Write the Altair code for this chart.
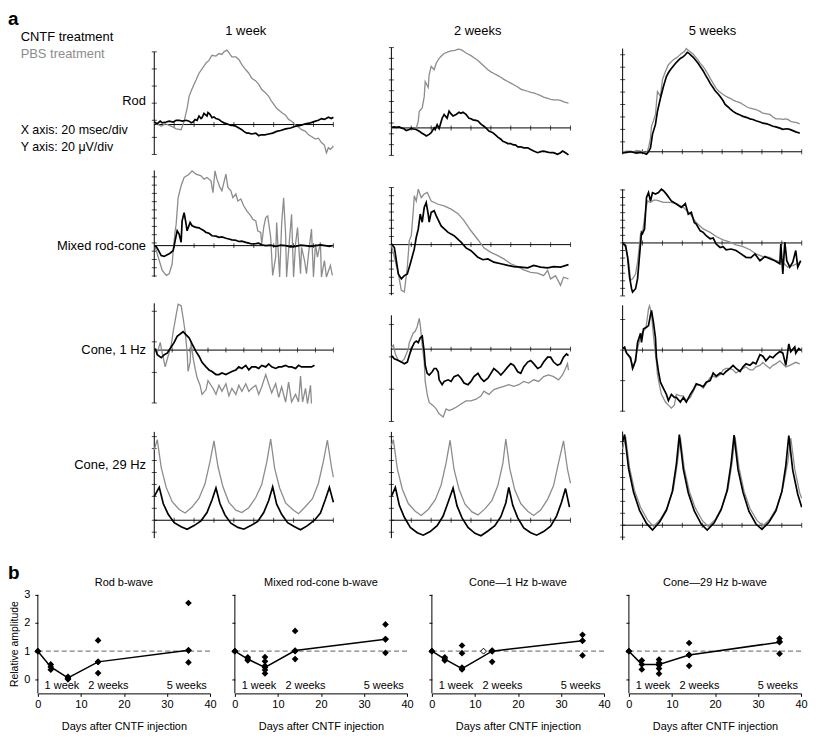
import altair as alt
import pandas as pd

FONT = "Liberation Sans"
GRAY = "#8c8c8c"

# ---------------- Panel a : ERG traces (t in ms, amplitude in µV) ----------------
ROD_1W_PBS = [(0,2),(4,0),(7,-2),(11,1),(15,-1),(19,-3),(22,-5),(27,-6),(30,4),(33,19),(35,33),(37,39),(40,47),(42,52),(45,60),(48,65),(52,72),(55,75),(58,81),(62,80),(65,83),(68,82),(70,85),(73,87),(75,84),(78,79),(82,79),(85,76),(88,70),(92,64),(95,60),(98,54),(102,51),(105,47),(108,41),(112,37),(115,33),(118,27),(123,19),(128,14),(132,11),(135,6),(138,4),(142,-1),(145,-3),(148,-6),(152,-8),(155,-12),(158,-14),(162,-17),(165,-16),(168,-21),(171,-24),(173,-33),(175,-27),(177,-29),(180,-25)]
ROD_1W_CNTF = [(0,3),(3,1),(6,4),(8,2),(12,3),(15,4),(19,3),(22,5),(25,5),(28,4),(32,5),(35,4),(37,2),(39,3),(41,6),(43,5),(45,10),(47,7),(48,8),(50,13),(51,12),(53,10),(54,14),(56,12),(58,8),(60,9),(62,7),(65,6),(67,4),(70,2),(73,1),(77,-1),(80,-1),(82,-2),(85,-4),(88,-6),(90,-8),(93,-10),(95,-10),(98,-11),(102,-10),(105,-13),(107,-12),(111,-12),(115,-11),(119,-10),(123,-8),(127,-7),(132,-5),(137,-4),(142,-2),(147,-1),(152,1),(157,2),(162,4),(165,5),(168,7),(171,6),(175,8.5),(178,7),(180,8.5)]
ROD_2W_PBS = [(0,0),(4,1),(7,2),(10,0),(13,-1),(17,-1),(20,-2),(23,-1),(25,0),(27,12),(28,31),(31,37),(33,58),(34,86),(37,75),(38,99),(40,114),(43,108),(45,120),(48,129),(50,133),(53,138),(57,141),(60,143),(64,144),(67,146),(70,145),(72,143),(75,139),(77,137),(80,134),(83,130),(87,125),(90,120),(93,115),(97,108),(100,104),(103,101),(107,97),(110,94),(113,90),(117,86),(120,83),(123,80),(127,76),(130,72),(133,70),(137,68),(140,66),(143,65),(147,62),(150,60),(153,57),(157,55),(160,53),(163,52),(167,52),(170,51),(174,48),(178,46)]
ROD_2W_CNTF = [(0,1),(3,2),(5,1),(8,2),(10,0),(13,-2),(15,-5),(18,-3),(20,-1),(22,-2),(25,-3),(28,-6),(30,-9),(33,-12),(35,-15),(38,-12),(40,-9),(43,0),(44,-3),(46,6),(48,-1),(51,18),(53,25),(56,18),(58,31),(60,26),(62,22),(65,25),(68,29),(70,27),(72,29),(75,25),(78,18),(80,17),(82,15),(85,14),(87,13),(90,7),(93,3),(95,0),(98,-6),(102,-9),(104,-12),(107,-17),(110,-21),(112,-25),(115,-27),(117,-29),(120,-29),(122,-31),(125,-32),(127,-35),(130,-35),(133,-37),(137,-37),(140,-40),(143,-43),(147,-46),(150,-44),(153,-43),(157,-45),(160,-46),(163,-46),(167,-49),(170,-46),(172,-43),(175,-46),(178,-50)]
ROD_5W_PBS = [(0,0),(4,1),(8,1),(11,0),(14,2),(18,1),(21,0),(24,-2),(26,6),(28,22),(29,41),(31,50),(33,60),(35,97),(38,89),(40,116),(43,129),(46,140),(49,145),(51,148),(54,151),(57,155),(59,158),(62,161),(64,166),(66,163),(68,161),(71,157),(73,153),(76,147),(78,142),(81,137),(83,132),(86,124),(88,118),(91,110),(94,102),(97,97),(101,92),(104,89),(108,86),(111,83),(114,81),(118,79),(121,76),(125,72),(128,70),(131,69),(134,68),(138,65),(141,62),(145,61),(148,60),(151,56),(154,53),(158,53),(161,52),(164,53),(166,52),(169,49),(171,48),(175,47),(178,45)]
ROD_5W_CNTF = [(0,-2),(4,-1),(8,0),(11,-1),(14,-2),(18,-1),(21,-2),(24,-4),(26,0),(28,6),(30,28),(33,44),(35,65),(38,86),(41,105),(44,121),(46,127),(48,132),(51,138),(53,142),(56,147),(58,150),(61,153),(63,156),(65,160),(67,158),(68,156),(71,152),(73,148),(76,142),(78,137),(81,130),(83,124),(86,116),(88,110),(91,103),(93,98),(96,93),(98,89),(101,82),(103,76),(106,72),(108,69),(111,65),(114,62),(118,59),(121,57),(125,55),(128,53),(131,52),(134,50),(138,48),(141,46),(145,45),(148,43),(151,41),(154,40),(158,38),(161,36),(165,37),(168,36),(171,34),(174,32),(176,31),(178,30)]

MIX_1W_PBS = [(1,-4),(5,-36),(8,-60),(12,-72),(15,-68),(18,-44),(19,-12),(21,36),(22,52),(24,116),(27,145),(30,165),(35,173),(38,181),(42,173),(47,169),(50,161),(53,165),(57,157),(59,128),(61,181),(63,161),(66,141),(68,133),(72,173),(74,141),(77,133),(79,116),(82,125),(84,108),(87,113),(90,96),(93,84),(97,72),(99,64),(102,60),(104,36),(107,32),(108,4),(110,44),(112,68),(114,72),(117,20),(119,-72),(122,-28),(123,56),(126,-76),(128,52),(130,116),(132,28),(133,-76),(135,-12),(138,76),(140,-76),(142,4),(144,44),(147,-68),(148,-4),(151,-36),(153,-68),(155,-20),(158,40),(160,-76),(162,4),(164,-28),(167,8),(168,-76),(171,-36),(173,-76),(177,-48),(179,-72)]
MIX_1W_CNTF = [(1,0),(3,-6),(5,-15),(7,-24),(10,-26),(13,-22),(15,-20),(17,-16),(19,-12),(21,12),(23,36),(25,28),(27,8),(28,60),(30,80),(32,52),(33,36),(36,56),(38,48),(40,46),(42,44),(45,43),(47,40),(50,36),(52,32),(55,30),(58,24),(62,23),(65,20),(68,21),(72,18),(75,16),(78,14),(82,13),(85,10),(88,11),(92,8),(95,6),(98,4),(102,5),(105,6),(108,2),(112,0),(117,1),(122,-2),(127,1),(132,0),(137,-3),(142,-2),(147,1),(152,0),(157,-2),(162,0),(167,2),(172,0),(176,-2),(179,0)]
MIX_2W_PBS = [(0,0),(3,-31),(7,-72),(10,-112),(13,-116),(16,-55),(18,10),(20,22),(22,83),(23,120),(25,107),(27,136),(30,115),(33,124),(36,128),(40,107),(47,99),(53,95),(60,87),(67,76),(73,59),(80,34),(87,12),(93,-8),(100,-19),(107,-27),(113,-35),(120,-47),(127,-54),(133,-62),(140,-68),(147,-70),(153,-76),(157,-63),(160,-84),(165,-76),(170,-100),(173,-80),(178,-84)]
MIX_2W_CNTF = [(0,2),(3,-7),(5,-39),(7,-72),(10,-84),(13,-76),(16,-72),(19,-47),(23,-11),(25,18),(27,38),(29,75),(31,55),(33,91),(35,103),(37,75),(38,55),(40,79),(43,83),(45,71),(50,46),(57,30),(63,22),(70,6),(75,-8),(80,-15),(87,-31),(92,-37),(97,-35),(103,-43),(110,-47),(117,-51),(123,-54),(130,-55),(137,-57),(143,-51),(150,-55),(157,-57),(163,-54),(170,-55),(178,-49)]
MIX_5W_PBS = [(0,-1),(3,-12),(6,-47),(8,-99),(10,-95),(13,-82),(15,-51),(17,-3),(18,24),(20,28),(23,85),(25,111),(28,107),(31,113),(34,113),(41,107),(48,107),(54,104),(61,94),(68,76),(74,54),(81,37),(88,28),(94,17),(101,8),(108,2),(114,-5),(121,-10),(128,-18),(134,-29),(141,-36),(148,-38),(154,-47),(161,-51),(166,-64),(171,-60),(178,-51)]
MIX_5W_CNTF = [(0,-1),(3,-7),(5,-38),(7,-91),(9,-121),(10,-130),(13,-121),(15,-95),(17,-33),(19,28),(20,25),(22,37),(24,120),(26,133),(28,111),(30,133),(33,129),(36,133),(39,142),(41,138),(44,129),(49,111),(54,103),(59,94),(63,104),(66,76),(69,81),(72,54),(74,50),(78,32),(81,28),(84,19),(88,11),(91,13),(94,-3),(98,-12),(101,-10),(104,-18),(109,-16),(114,-20),(119,-29),(124,-38),(129,-39),(133,-29),(138,-47),(143,-36),(148,-42),(153,-47),(158,-55),(159,-3),(161,-82),(163,2),(165,-47),(168,-64),(171,-51),(174,-20),(176,-64),(179,-47)]

C1_1W_PBS = [(1,1),(3,-2),(6,5),(8,-2),(11,-11),(13,-6),(17,3),(19,12),(22,23),(24,30),(27,29),(29,21),(31,12),(33,-1),(34,-14),(36,-8),(37,5),(39,-5),(41,-12),(43,-18),(46,-23),(48,-29),(52,-26),(54,-20),(57,-23),(59,-25),(62,-29),(65,-23),(68,-27),(72,-22),(75,-30),(78,-25),(82,-29),(85,-23),(88,-27),(92,-22),(95,-27),(98,-25),(102,-23),(105,-29),(108,-24),(112,-16),(115,-22),(118,-28),(122,-22),(125,-31),(128,-24),(132,-34),(135,-21),(138,-34),(142,-29),(145,-34),(147,-17),(149,-34),(152,-25),(154,-35),(157,-23),(158,-35)]
C1_1W_CNTF = [(1,1),(3,-3),(7,-5),(10,-3),(13,-2),(17,2),(20,5),(23,9),(27,11),(29,12),(32,10),(35,8),(38,4),(42,-1),(45,-4),(48,-8),(52,-11),(55,-13),(58,-14),(62,-16),(65,-16),(68,-15),(72,-16),(75,-15),(78,-14),(82,-13),(85,-11),(88,-12),(92,-10),(95,-13),(98,-11),(102,-11),(105,-12),(108,-10),(112,-11),(115,-9),(118,-11),(122,-12),(125,-11),(128,-11),(132,-10),(135,-11),(138,-11),(142,-12),(145,-10),(148,-11),(152,-11),(155,-11),(158,-11),(161,-10)]
C1_2W_PBS = [(0,1),(2,2.5),(4,-3),(7,-7),(10,-8),(13,-6),(17,0),(18,4),(22,10),(24,11),(26,14),(28,19),(29,15),(31,2.5),(33,-8),(34,-20),(36,-28),(38,-33),(42,-35),(45,-37),(48,-40),(52,-42),(55,-37),(58,-38),(62,-37),(65,-36),(70,-34),(75,-32),(80,-32),(85,-31),(90,-29),(93,-26),(98,-28),(103,-25),(108,-24),(113,-23),(118,-22),(123,-23),(128,-22),(133,-20),(138,-21),(143,-19),(148,-20),(153,-17),(158,-16),(163,-17),(168,-19),(172,-16),(175,-12),(177,-9),(178,-13)]
C1_2W_CNTF = [(0,-4),(3,-6),(7,-7),(10,-8),(13,-9),(16,-8),(18,-4),(20,0),(23,4),(25,5),(27,4),(29,7),(31,8),(33,-2),(34,-10),(36,-15),(38,-16),(41,-14),(43,-12),(45,-12),(47,-14),(48,-19),(51,-22),(53,-20),(57,-19),(60,-20),(63,-17),(67,-16),(70,-18),(73,-21),(77,-22),(80,-20),(83,-17),(87,-15),(90,-18),(93,-20),(97,-18),(100,-15),(103,-12),(107,-14),(110,-16),(113,-14),(117,-11),(120,-9),(123,-10),(127,-14),(130,-15),(133,-11),(137,-8),(140,-7),(143,-9),(147,-12),(150,-11),(153,-8),(157,-5),(160,-5),(163,-8),(167,-10),(170,-9),(173,-5),(176,-3),(178,-4)]
C1_5W_PBS = [(0,1),(3,-1),(6,-4),(9,-8),(11,-11),(13,-5),(15,1),(18,9),(20,12),(23,14),(24,17),(26,27),(27,29),(29,24),(30,16),(32,3),(34,-8),(35,-16),(37,-23),(39,-29),(43,-34),(46,-36),(49,-38),(52,-36),(54,-29),(58,-30),(61,-30),(64,-33),(68,-31),(71,-27),(74,-23),(78,-23),(81,-25),(84,-22),(88,-18),(91,-17),(94,-18),(98,-16),(101,-13),(104,-12),(108,-12),(111,-13),(114,-15),(118,-13),(121,-12),(124,-11),(128,-13),(131,-13),(134,-11),(138,-10),(141,-8),(144,-10),(148,-12),(151,-10),(154,-9),(158,-7),(161,-9),(164,-11),(168,-10),(171,-9),(174,-8),(178,-9)]
C1_5W_CNTF = [(0,1),(2,2),(4,-2),(8,-5),(10,-12),(13,-7),(15,5),(18,11),(19,5),(21,14),(24,15),(26,16),(28,23),(29,26),(31,18),(33,8),(34,-5),(36,-14),(38,-21),(41,-25),(44,-29),(46,-33),(49,-29),(52,-31),(54,-31),(58,-34),(61,-31),(64,-34),(68,-29),(71,-26),(74,-22),(78,-23),(81,-24),(84,-21),(88,-20),(91,-15),(94,-17),(98,-15),(101,-16),(104,-14),(108,-12),(111,-10),(114,-12),(118,-14),(121,-11),(124,-9),(128,-10),(131,-8),(134,-9),(138,-3),(141,-4),(144,-7),(148,-4),(151,-5),(154,-3),(158,-1),(161,-2),(164,-10),(167,4),(169,-1),(173,2),(174,-2),(177,1),(179,0)]

C29_1W_PBS = [(0,118),(3,135),(7,88),(12,55),(18,31),(25,18),(31,12),(38,22),(45,37),(51,61),(56,98),(60,133),(64,90),(69,56),(75,30),(82,17),(88,13),(95,21),(102,38),(108,60),(113,97),(117,136),(121,87),(126,54),(132,29),(139,18),(145,11),(152,23),(159,36),(165,62),(170,99),(174,134),(178,90),(180,72)]
C29_1W_CNTF = [(0,40),(5,55),(9,28),(14,10),(20,-4),(27,-11),(33,-15),(40,-9),(47,-1),(53,13),(58,34),(62,54),(66,28),(71,9),(77,-5),(84,-12),(90,-15),(97,-9),(104,-2),(110,13),(115,33),(119,56),(123,27),(128,10),(134,-4),(141,-11),(147,-16),(154,-9),(161,0),(167,12),(172,35),(176,55),(180,30)]
C29_2W_PBS = [(0,125),(2,135),(6,86),(11,52),(17,28),(24,15),(30,8),(37,18),(44,34),(50,59),(55,96),(59,134),(63,85),(68,52),(74,27),(81,14),(87,9),(94,19),(101,33),(107,58),(112,95),(115,136),(119,86),(124,51),(130,28),(137,15),(143,8),(150,17),(157,35),(163,58),(168,96),(173,133),(177,85),(180,62)]
C29_2W_CNTF = [(0,40),(4,55),(8,25),(13,5),(19,-12),(26,-21),(32,-25),(39,-19),(46,-9),(52,7),(57,30),(62,54),(66,24),(71,4),(77,-12),(84,-22),(90,-26),(97,-18),(104,-9),(110,6),(115,29),(118,55),(122,25),(127,4),(133,-13),(140,-21),(146,-25),(153,-19),(160,-10),(166,7),(171,30),(175,53),(179,22)]
C29_5W_PBS = [(0,128),(3,148),(7,96),(12,58),(18,30),(25,9),(31,-2),(38,10),(45,30),(51,60),(55,104),(58,147),(62,95),(67,57),(73,29),(80,8),(86,-2),(93,9),(100,31),(106,61),(110,105),(113,148),(117,96),(122,57),(128,28),(135,8),(141,-1),(148,10),(155,30),(161,62),(166,106),(169,146),(173,94),(178,54),(180,45)]
C29_5W_CNTF = [(0,140),(2,152),(6,95),(11,55),(17,25),(24,3),(30,-8),(37,5),(44,25),(50,57),(54,102),(57,152),(61,94),(66,54),(72,24),(79,2),(85,-8),(92,4),(99,26),(105,58),(109,103),(112,151),(116,93),(121,55),(127,23),(134,2),(140,-7),(147,5),(154,24),(160,56),(164,100),(167,150),(171,92),(176,52),(180,30)]

# axis tick values (µV) and axis extents per panel
TICKS_20 = [20, 40, 60, 80, 100, 120, 140, 160, 180]
TICKS_18 = [18, 36, 54, 72, 90, 108, 126, 144, 162, 180]
Y_TICKS = {
    (1, 1): [-35, -15, 5, 25, 45, 65, 85],
    (1, 2): [-51, -31, -11, 9, 29, 49, 69, 89, 109, 129, 149],
    (1, 3): [16, 36, 56, 76, 96, 116, 136, 156],
    (2, 1): [-73.5, -53.5, -33.5, -13.5, 6.5, 26.5, 46.5, 66.5, 86.5, 106.5, 126.5, 146.5, 166.5],
    (2, 2): [-120, -100, -80, -60, -40, -20, 0, 20, 40, 60, 80, 100, 120, 140],
    (2, 3): [-140, -120, -100, -80, -60, -40, -20, 0, 20, 40, 60, 80, 100, 120, 140],
    (3, 1): [-34.6, -14.6, 5.4, 25.4],
    (3, 2): [-44.8, -24.8, -4.8, 15.2],
    (3, 3): [-40, -20, 0, 20],
    (4, 1): [-20, 0, 20, 40, 60, 80, 100, 120, 140],
    (4, 2): [-20, 0, 20, 40, 60, 80, 100, 120, 140],
    (4, 3): [-20, 0, 20, 40, 60, 80, 100, 120, 140],
}
Y_EXT = {
    (1, 1): (-35, 85), (1, 2): (-51, 149), (1, 3): (-4, 166),
    (2, 1): (-76, 182), (2, 2): (-124, 140), (2, 3): (-140, 142),
    (3, 1): (-34.7, 30.6), (3, 2): (-44.7, 20.9), (3, 3): (-40.2, 29.3),
    (4, 1): (-30, 148), (4, 2): (-30, 148), (4, 3): (-25, 157),
}

# layout (pixels / scale domains)
COL_W = [330, 230, 208]
COL_XDOM = [[-117, 213], [-25.3, 204.7], [-27.7, 180.3]]
ROW_H = [121, 138, 127, 134]
Y_DOM = {
    (1, 1): [-43.8, 96.9], (1, 2): [-63.3, 160], (1, 3): [-16.5, 177.1],
    (2, 1): [-130.1, 202.4], (2, 2): [-134.2, 202.5], (2, 3): [-149.1, 213.8],
    (3, 1): [-49.5, 33.2], (3, 2): [-47.4, 30.8], (3, 3): [-49.5, 33.2],
    (4, 1): [-65, 158.3], (4, 2): [-65, 158.3], (4, 3): [-56.7, 166.7],
}

TRACES = {
    (1, 1): (ROD_1W_PBS, ROD_1W_CNTF), (1, 2): (ROD_2W_PBS, ROD_2W_CNTF), (1, 3): (ROD_5W_PBS, ROD_5W_CNTF),
    (2, 1): (MIX_1W_PBS, MIX_1W_CNTF), (2, 2): (MIX_2W_PBS, MIX_2W_CNTF), (2, 3): (MIX_5W_PBS, MIX_5W_CNTF),
    (3, 1): (C1_1W_PBS, C1_1W_CNTF), (3, 2): (C1_2W_PBS, C1_2W_CNTF), (3, 3): (C1_5W_PBS, C1_5W_CNTF),
    (4, 1): (C29_1W_PBS, C29_1W_CNTF), (4, 2): (C29_2W_PBS, C29_2W_CNTF), (4, 3): (C29_5W_PBS, C29_5W_CNTF),
}

# annotation placements (pixels relative to each panel's plot area)
TEXTS = {
    (1, 1): [("a", -30, -17, "left", "black", 19, "bold", "alphabetic"),
             ("CNTF treatment", -17.3, -5, "left", "black", 13, "normal", "middle"),
             ("PBS treatment", -17.3, 12, "left", GRAY, 13, "normal", "middle"),
             ("1 week", 209, -11, "center", "black", 13, "normal", "middle"),
             ("Rod", 108.7, 60, "right", "black", 13, "normal", "middle"),
             ("X axis: 20 msec/div", -17.3, 89, "left", "black", 12.5, "normal", "middle"),
             ("Y axis: 20 \u03bcV/div", -17.3, 106, "left", "black", 12.5, "normal", "middle")],
    (1, 2): [("2 weeks", 112, -11, "center", "black", 13, "normal", "middle")],
    (1, 3): [("5 weeks", 118, -11, "center", "black", 13, "normal", "middle")],
    (2, 1): [("Mixed rod-cone", 108.7, 84, "right", "black", 13, "normal", "middle")],
    (3, 1): [("Cone, 1 Hz", 108.7, 51, "right", "black", 13, "normal", "middle")],
    (4, 1): [("Cone, 29 Hz", 108.7, 39, "right", "black", 13, "normal", "middle")],
}


def pts(pairs):
    return pd.DataFrame(pairs, columns=["t", "v"])


def trace_panel(r, c):
    xs = alt.Scale(domain=COL_XDOM[c - 1], nice=False, zero=False)
    ys = alt.Scale(domain=Y_DOM[(r, c)], nice=False, zero=False)
    X = alt.X("t:Q", scale=xs, axis=None)
    Y = alt.Y("v:Q", scale=ys, axis=None)
    lo, hi = Y_EXT[(r, c)]
    yt = Y_TICKS[(r, c)]
    xt = TICKS_18 if (r, c) == (3, 1) else TICKS_20
    yaxis = alt.Chart(pd.DataFrame({"t": [0], "v": [lo], "v2": [hi]})).mark_rule(
        color="black", strokeWidth=1).encode(x=X, y=Y, y2="v2:Q")
    xaxis = alt.Chart(pd.DataFrame({"t": [0], "t2": [180], "v": [0]})).mark_rule(
        color="black", strokeWidth=1).encode(x=X, x2="t2:Q", y=Y)
    ytk = alt.Chart(pd.DataFrame({"t": [0] * len(yt), "v": yt})).mark_tick(
        orient="horizontal", size=5, thickness=1, color="black").encode(x=X, y=Y)
    xtk = alt.Chart(pd.DataFrame({"t": xt, "v": [0] * len(xt)})).mark_tick(
        orient="vertical", size=5, thickness=1, color="black").encode(x=X, y=Y)
    gray, black = TRACES[(r, c)]
    g = alt.Chart(pts(gray)).mark_line(color=GRAY, strokeWidth=1.3, clip=True).encode(x=X, y=Y)
    b = alt.Chart(pts(black)).mark_line(color="black", strokeWidth=1.7, clip=True).encode(x=X, y=Y)
    layers = [yaxis, xaxis, ytk, xtk, g, b]
    for (txt, px, py, align, color, size, weight, base) in TEXTS.get((r, c), []):
        layers.append(
            alt.Chart(pd.DataFrame({"s": [txt]})).mark_text(
                align=align, baseline=base, font=FONT, fontSize=size,
                fontWeight=weight, color=color).encode(
                text="s:N", x=alt.value(px), y=alt.value(py)))
    return alt.layer(*layers).properties(width=COL_W[c - 1], height=ROW_H[r - 1])


rows = []
for r in range(1, 5):
    rows.append(alt.hconcat(*[trace_panel(r, c) for c in range(1, 4)], spacing=0))
panel_a = alt.vconcat(*rows, spacing=0)

# ---------------- Panel b : relative amplitude ----------------
B_TITLES = ["Rod b-wave", "Mixed rod-cone b-wave", "Cone\u20141 Hz b-wave", "Cone\u201429 Hz b-wave"]

ROD_DAYS = [0, 3, 3, 7, 7, 7, 14, 14, 14, 35, 35, 35]
ROD_VALS = [1, 0.53, 0.34, 0.09, 0.03, 0.0, 1.38, 0.62, 0.22, 2.71, 1.03, 0.60]
ROD_MEAN = [1, 0.44, 0.05, 0.62, 1.03]

MIX_DAYS = [0, 3, 3, 7, 7, 7, 7, 7, 14, 14, 14, 35, 35, 35]
MIX_VALS = [1, 0.78, 0.67, 0.79, 0.64, 0.48, 0.33, 0.21, 1.72, 1.0, 0.72, 1.95, 1.43, 0.94]
MIX_MEAN = [1, 0.72, 0.42, 1.02, 1.42]

CONE1_DAYS = [0, 3, 3, 7, 7, 7, 7, 14, 14, 14, 35, 35, 35]
CONE1_VALS = [1, 0.78, 0.67, 1.2, 0.93, 0.42, 0.35, 1.02, 1.0, 0.62, 1.58, 1.37, 0.85]
CONE1_MEAN = [1, 0.72, 0.38, 1.0, 1.37]
CONE1_OPEN_DAYS = [12]
CONE1_OPEN_VALS = [1.0]

CONE29_DAYS = [0, 3, 3, 7, 7, 7, 7, 7, 14, 14, 14, 35, 35, 35]
CONE29_VALS = [1, 0.67, 0.35, 0.7, 0.59, 0.5, 0.38, 0.2, 1.29, 0.87, 0.48, 1.45, 1.34, 0.91]
CONE29_MEAN = [1, 0.53, 0.53, 0.86, 1.32]

MEAN_DAYS = [0, 3, 7, 14, 35]
WEEK_LABELS = ["1 week", "2 weeks", "5 weeks"]
WEEK_LABEL_DAYS = [5.6, 16.4, 34.6]
WEEK_LABEL_VAL = -0.24

B_W, B_H = 173, 130
B_YDOM = [-0.5, 4.095]


def b_panel(idx, days, vals, mvals, open_days=None, open_vals=None):
    first = idx == 0
    xs = alt.Scale(domain=[0, 40], nice=False, zero=False)
    ys = alt.Scale(domain=B_YDOM, nice=False, zero=False)
    common = dict(grid=False, domainColor="black", tickColor="black", labelColor="black",
                  titleColor="black", labelFont=FONT, titleFont=FONT, labelFontSize=11,
                  titleFontWeight="normal", tickSize=3, domainWidth=1, tickWidth=1)
    xax = alt.Axis(values=[0, 10, 20, 30, 40], title="Days after CNTF injection",
                   titleFontSize=11, labelPadding=2, titlePadding=11, labelFlush=False, **common)
    if first:
        yax = alt.Axis(values=[0, 1, 2, 3], title="Relative amplitude", titleFontSize=10.5,
                       labelPadding=5, titlePadding=4, titleY=80, domain=False, **common)
    else:
        yax = alt.Axis(values=[0, 1, 2, 3], title=None, labels=False, domain=False, **common)
    X = alt.X("day:Q", scale=xs, axis=xax)
    Y = alt.Y("val:Q", scale=ys, axis=yax)
    yline = alt.Chart(pd.DataFrame({"day": [0], "val": [-0.5], "val2": [3]})).mark_rule(
        color="black", strokeWidth=1).encode(x=X, y=Y, y2="val2:Q")
    ref = alt.Chart(pd.DataFrame({"day": [0], "day2": [40], "val": [1]})).mark_rule(
        color="#808080", strokeDash=[5, 3], strokeWidth=1.2).encode(x=X, x2="day2:Q", y=Y)
    line = alt.Chart(pd.DataFrame({"day": MEAN_DAYS, "val": mvals})).mark_line(
        color="black", strokeWidth=1.5).encode(x=X, y=Y)
    mpts = alt.Chart(pd.DataFrame({"day": MEAN_DAYS, "val": mvals})).mark_point(
        shape="diamond", filled=True, color="black", size=45, opacity=1).encode(x=X, y=Y)
    ipts = alt.Chart(pd.DataFrame({"day": days, "val": vals})).mark_point(
        shape="diamond", filled=True, color="black", size=45, opacity=1).encode(x=X, y=Y)
    wk = alt.Chart(pd.DataFrame({"day": WEEK_LABEL_DAYS, "val": [WEEK_LABEL_VAL] * 3,
                                 "lbl": WEEK_LABELS})).mark_text(
        font=FONT, fontSize=11, align="center", baseline="middle", color="black").encode(
        x=X, y=Y, text="lbl:N")
    ttl = alt.Chart(pd.DataFrame({"s": [B_TITLES[idx]]})).mark_text(
        font=FONT, fontSize=11, align="center", baseline="middle", color="black").encode(
        text="s:N", x=alt.value(B_W / 2), y=alt.value(19))
    layers = [yline, ref, line, mpts, ipts, wk, ttl]
    if open_days:
        layers.append(alt.Chart(pd.DataFrame({"day": open_days, "val": open_vals})).mark_point(
            shape="diamond", filled=True, fill="white", stroke="black", strokeWidth=1,
            size=35, opacity=1).encode(x=X, y=Y))
    if first:
        layers.append(alt.Chart(pd.DataFrame({"s": ["b"]})).mark_text(
            font=FONT, fontSize=19, fontWeight="bold", align="left", baseline="alphabetic",
            color="black").encode(text="s:N", x=alt.value(-30), y=alt.value(15)))
    return alt.layer(*layers).properties(width=B_W, height=B_H)


panel_b = alt.hconcat(
    b_panel(0, ROD_DAYS, ROD_VALS, ROD_MEAN),
    b_panel(1, MIX_DAYS, MIX_VALS, MIX_MEAN),
    b_panel(2, CONE1_DAYS, CONE1_VALS, CONE1_MEAN, CONE1_OPEN_DAYS, CONE1_OPEN_VALS),
    b_panel(3, CONE29_DAYS, CONE29_VALS, CONE29_MEAN),
    spacing=14)

chart = alt.vconcat(panel_a, panel_b, spacing=5).properties(
    padding=0).configure_view(stroke=None)

chart.save("out.html", embed_options={"renderer": "svg", "actions": False})
